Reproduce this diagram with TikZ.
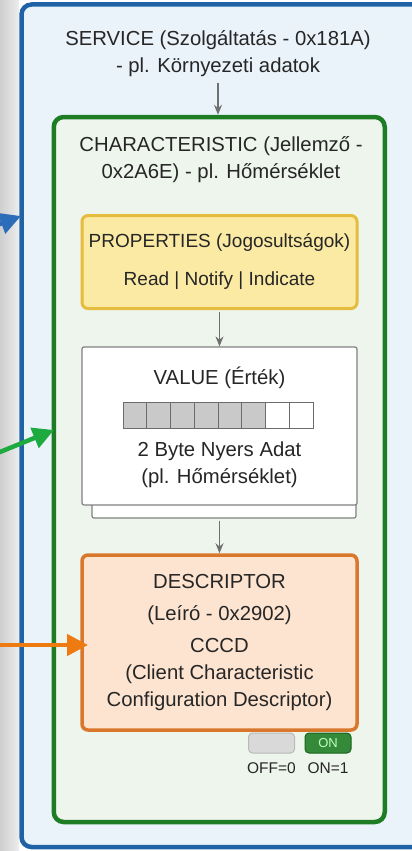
\documentclass[tikz,border=0pt]{standalone}
\usepackage{fontspec}
\setmainfont{Liberation Sans}
\usepackage{tikz}
\usetikzlibrary{arrows,arrows.meta}

\definecolor{txtgray}{HTML}{262626}
\definecolor{servblue}{HTML}{1F63A6}
\definecolor{servfill}{HTML}{EAF3FA}
\definecolor{chargreen}{HTML}{1E7D24}
\definecolor{charfill}{HTML}{EEF5EC}
\definecolor{propgold}{HTML}{E5BC3E}
\definecolor{propfill}{HTML}{FBEAA4}
\definecolor{descorange}{HTML}{D9782C}
\definecolor{descfill}{HTML}{FDE4D0}
\definecolor{cellgray}{HTML}{C9C9C9}
\definecolor{flowgray}{HTML}{707070}
\definecolor{arrowblue}{HTML}{2C6CB8}
\definecolor{arrowgreen}{HTML}{1DAA3E}
\definecolor{arroworange}{HTML}{EE7A12}

\begin{document}
\begin{tikzpicture}[
            x=1pt, y=-1pt,
            box text/.style={text=txtgray, font=\fontsize{20.3}{27}\selectfont, align=center},
            servicebox/.style={line width=4.5pt, draw=servblue, fill=servfill, rounded corners=10pt},
            charbox/.style={line width=4.5pt, draw=chargreen, fill=charfill, rounded corners=10pt},
            propbox/.style={box text, font=\fontsize{19}{27}\selectfont, inner xsep=0pt, line width=3pt, draw=propgold, fill=propfill, rounded corners=6pt},
            valuebox/.style={line width=1.2pt, draw=gray, fill=white, rounded corners=2pt},
            descbox/.style={box text, inner xsep=0pt, line width=3.5pt, draw=descorange, fill=descfill, rounded corners=6pt},
            byte cell/.style={draw=gray!85!black, line width=1pt},
            switch/.style={rounded corners=4pt, line width=1pt, minimum width=46pt, minimum height=20pt, inner sep=0pt},
            flow/.style={line width=1.3pt, draw=flowgray, -{Stealth[length=10pt, width=8pt]}, shorten <=2pt},
            pointer/.style={line width=4.5pt, -{Triangle[length=21pt, width=21pt]}}
            ]

            \useasboundingbox (0,0) rectangle (412,851);
            \clip (0,0) rectangle (412,851);

            % background strip and service box
            \shade[left color=gray!38, right color=gray!14] (0,0) rectangle (19,851);
            \draw[servicebox] (21.5,4.5) rectangle (460,847);

            \node[box text] (service) at (218,54) {SERVICE (Szolgáltatás - 0x181A)\\- pl. Környezeti adatok};

            % characteristic
            \node[charbox, minimum width=331pt, minimum height=705pt] (char) at (219.25,469.5) {};
            \node[box text] (chartitle) at (221,160) {CHARACTERISTIC (Jellemző -\\0x2A6E) - pl. Hőmérséklet};

            \node[propbox, minimum width=275pt, minimum height=93pt] (props) at (219.5,262)
                {PROPERTIES (Jogosultságok)\\[11pt]Read | Notify | Indicate};

            % value
            \node[valuebox, minimum width=264pt, minimum height=158pt] (valueback) at (224,439) {};
            \node[valuebox, minimum width=275pt, minimum height=158pt] (value) at (219.5,426) {};
            \node[box text] (valuetitle) at (219.5,378) {VALUE (Érték)};
            \foreach \i in {0,...,7} {
                \ifnum\i<6 \def\cellfill{cellgray}\else \def\cellfill{white}\fi
                \draw[byte cell, fill=\cellfill] (123+\i*23.75,402) rectangle (123+\i*23.75+23.75,428);
            }
            \node[box text] (valuetext) at (219.5,465) {2 Byte Nyers Adat\\(pl. Hőmérséklet)};

            % descriptor
            \node[descbox, minimum width=275pt, minimum height=175pt] (desc) at (219.5,642.5)
                {DESCRIPTOR\\[5pt](Leíró - 0x2902)\\[5pt]CCCD\\(Client Characteristic\\Configuration Descriptor)};

            \node[switch, draw=gray!55, fill=gray!30] (offsw) at (271.5,743) {};
            \node[switch, draw=chargreen!80!black, fill=chargreen!90, text=green!25,
                  font=\fontsize{13}{13}\selectfont] (onsw) at (328,743) {ON};
            \node[text=txtgray, font=\fontsize{15.5}{15.5}\selectfont] (offlbl) at (271.5,768) {OFF=0};
            \node[text=txtgray, font=\fontsize{15.5}{15.5}\selectfont] (onlbl) at (328,768) {ON=1};

            % flow arrows
            \draw[flow] (service.south) -- (service.south |- char.north);
            \draw[flow] (props.south) -- (value.north);
            \draw[flow] (valueback.south -| value.south) -- (desc.north);

            % pointers from the left
            \coordinate (blueend) at (-40,239);
            \coordinate (bluetip) at (21,216);
            \coordinate (greenend) at (-5,454);
            \coordinate (greentip) at (54,430);
            \coordinate (orangeend) at (-5,645);
            \coordinate (orangetip) at (88,645);
            \draw[pointer, arrowblue] (blueend) -- (bluetip);
            \draw[pointer, arrowgreen] (greenend) -- (greentip);
            \draw[pointer, arroworange] (orangeend) -- (orangetip);

        \end{tikzpicture}
\end{document}
